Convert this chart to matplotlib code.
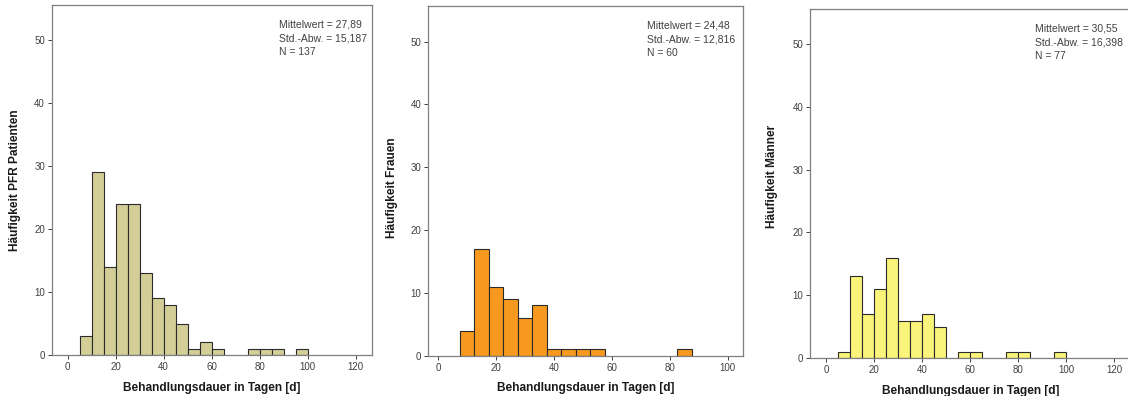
import matplotlib
matplotlib.use("Agg")
import matplotlib.pyplot as plt
import numpy as np

plt.rcParams["font.family"] = ["Liberation Sans", "DejaVu Sans"]

# bin left edges (width 5 days) and counts per panel
edges_all = [5, 10, 15, 20, 25, 30, 35, 40, 45, 50, 55, 60, 75, 80, 85, 95]
counts_all = [3, 29, 14, 24, 24, 13, 9, 8, 5, 1, 2, 1, 1, 1, 1, 1]

edges_f = [7.5, 12.5, 17.5, 22.5, 27.5, 32.5, 37.5, 42.5, 47.5, 52.5, 82.5]
counts_f = [4, 17, 11, 9, 6, 8, 1, 1, 1, 1, 1]

edges_m = [5, 10, 15, 20, 25, 30, 35, 40, 45, 55, 60, 75, 80, 95]
counts_m = [1, 13, 7, 11, 16, 6, 6, 7, 5, 1, 1, 1, 1, 1]

bin_width = 5
ylabels = ["Häufigkeit PFR Patienten", "Häufigkeit Frauen", "Häufigkeit Männer"]
xlabel = "Behandlungsdauer in Tagen [d]"
stats = ["Mittelwert = 27,89\nStd.-Abw. = 15,187\nN = 137",
         "Mittelwert = 24,48\nStd.-Abw. = 12,816\nN = 60",
         "Mittelwert = 30,55\nStd.-Abw. = 16,398\nN = 77"]
colors = ["#D3CD98", "#F7991F", "#FAF57A"]

# layout per panel (figure fractions) and axis ranges
positions = [[0.0461, 0.1035, 0.2837, 0.8838],
             [0.3797, 0.1018, 0.2793, 0.8838],
             [0.7184, 0.0952, 0.2840, 0.8820]]
xlims = [(-6.5, 126.8), (-3.46, 105.4), (-6.5, 126.8)]
xticks = [np.arange(0, 121, 20), np.arange(0, 101, 20), np.arange(0, 121, 20)]
ylims = [(0, 55.6), (0, 55.7), (0, 55.5)]
text_x = [0.709, 0.695, 0.701]
ylabel_x = [15, 391.7, 771.7]
ylabel_y = [0.545, 0.527, 0.555]

data = [(edges_all, counts_all), (edges_f, counts_f), (edges_m, counts_m)]

fig = plt.figure(figsize=(11.28, 3.96), dpi=100)
frame_col = "#7f7f7f"
txt_col = "#404040"

for i in range(3):
    ax = fig.add_axes(positions[i])
    e, c = data[i]
    ax.bar(e, c, width=bin_width, align="edge", color=colors[i],
           edgecolor="#2b2b2b", linewidth=0.8)
    ax.set_xlim(*xlims[i])
    ax.set_ylim(*ylims[i])
    ax.set_xticks(xticks[i])
    ax.set_yticks([0, 10, 20, 30, 40, 50])
    ax.tick_params(labelsize=7, colors=txt_col, length=3, width=0.7,
                   color="#404040", pad=2)
    for s in ax.spines.values():
        s.set_color(frame_col)
        s.set_linewidth(0.9)
    ax.set_xlabel(xlabel, fontsize=8.6, fontweight="bold", color="#1a1a1a", labelpad=7)
    ax.text(text_x[i], 0.958, stats[i], transform=ax.transAxes, va="top", ha="left",
            fontsize=7.5, color=txt_col, linespacing=1.45)
    fig.text(ylabel_x[i] / 1128, ylabel_y[i], ylabels[i], rotation=90, ha="center",
             va="center", fontsize=8.6, fontweight="bold", color="#1a1a1a")

fig.savefig("out.png", dpi=100)
